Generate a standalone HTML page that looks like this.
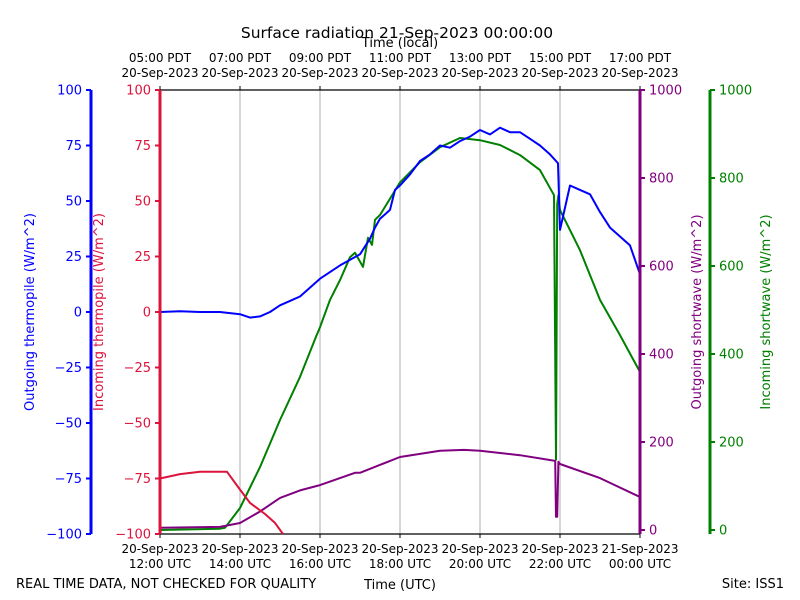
<!DOCTYPE html>
<html><head><meta charset="utf-8"><style>
body{margin:0;background:#fff;}
svg{display:block;font-family:"DejaVu Sans","Liberation Sans",sans-serif;}
</style></head><body>
<svg id="chart" width="800" height="600" xmlns="http://www.w3.org/2000/svg">
<rect width="800" height="600" fill="#fff"/>
<text x="397" y="38" font-size="15.5" text-anchor="middle">Surface radiation 21-Sep-2023 00:00:00</text>
<text x="400" y="47" font-size="13" text-anchor="middle">Time (local)</text>
<text x="400" y="589" font-size="13" text-anchor="middle">Time (UTC)</text>
<text x="16" y="588" font-size="13">REAL TIME DATA, NOT CHECKED FOR QUALITY</text>
<text x="784" y="588" font-size="13" text-anchor="end">Site: ISS1</text>
<g id="g"></g>
</svg>
<script>
// data (hours since 12:00 UTC)
const blueT=[0,0.5,1,1.5,1.75,2,2.25,2.5,2.75,3,3.25,3.5,3.75,4,4.5,5,5.25,5.375,5.5,5.75,5.875,6,6.25,6.5,6.75,7,7.25,7.5,7.75,8,8.25,8.5,8.75,9,9.25,9.5,9.75,9.85,9.9,9.95,10,10.25,10.5,10.75,11,11.25,11.5,11.75,12];
const blueV=[0,0.3,0,0,-0.5,-1,-2.5,-2,0,3,5,7,11,15,21,26,33,38,42,46,55,57,62,68,71,75,74,77,79,82,80,83,81,81,78,75,71,69,68,67,37,57,55,53,45,38,34,30,17];
const redT=[0,0.5,1,1.5,1.675,2,2.25,2.625,2.875,3.075];
const redV=[-75,-73,-72,-72,-72,-80,-86,-91,-95,-100];
const greenT=[0,1.5,1.625,2,2.5,3,3.5,3.9,4,4.25,4.5,4.75,4.875,5.075,5.2,5.3,5.375,5.5,6,6.5,7,7.5,8,8.5,9,9.5,9.85,9.9,9.93,9.96,10,10.5,11,11.5,12];
const greenV=[0,3,5,50,143,250,348,439,461,523,568,620,630,598,664,648,705,716,790,836,870,891,886,875,852,818,761,160,740,761,727,636,523,443,359];
const purpleT=[0,1.5,2,2.5,3,3.5,4,4.5,4.875,5,6,7,7.6,8,9,9.88,9.9,9.93,9.96,10,11,12];
const purpleV=[5,7,16,42,73,90,102,118,130,130,166,180,182,180,170,157,30,30,155,150,118,75];
const leftTicks=[100,75,50,25,0,-25,-50,-75,-100];
const rightTicks=[0,200,400,600,800,1000];
const utcLabels=["12:00 UTC","14:00 UTC","16:00 UTC","18:00 UTC","20:00 UTC","22:00 UTC","00:00 UTC"];
const utcDates=["20-Sep-2023","20-Sep-2023","20-Sep-2023","20-Sep-2023","20-Sep-2023","20-Sep-2023","21-Sep-2023"];
const localLabels=["05:00 PDT","07:00 PDT","09:00 PDT","11:00 PDT","13:00 PDT","15:00 PDT","17:00 PDT"];
const localDates=["20-Sep-2023","20-Sep-2023","20-Sep-2023","20-Sep-2023","20-Sep-2023","20-Sep-2023","20-Sep-2023"];

const X0=160,X1=640,YT=90,YB=534;
const xs=t=>X0+t*(X1-X0)/12;
const yL=v=>312-v*2.22;
const yR=v=>530-v*0.44;
const g=document.getElementById('g');
const NS='http://www.w3.org/2000/svg';
function el(tag,attrs,txt){const e=document.createElementNS(NS,tag);for(const k in attrs)e.setAttribute(k,attrs[k]);if(txt!==undefined)e.textContent=txt;g.appendChild(e);return e;}

for(let i=0;i<7;i++){
  const x=xs(i*2);
  if(i>0&&i<6){const l=el('line',{x1:x,x2:x,y1:YT,y2:YB,stroke:'#b0b0b0','stroke-width':1});
  
  }
  el('line',{x1:x,x2:x,y1:YB,y2:YB+4,stroke:'#000'});
  el('line',{x1:x,x2:x,y1:YT,y2:YT-4,stroke:'#000'});
  const a=el('text',{x:x,y:553,'font-size':12,'text-anchor':'middle'},utcDates[i]);
  
  
  const b=el('text',{x:x,y:568,'font-size':12,'text-anchor':'middle'},utcLabels[i]);
  
  
  const c=el('text',{x:x,y:62,'font-size':12,'text-anchor':'middle'},localLabels[i]);
  
  
  const d=el('text',{x:x,y:77,'font-size':12,'text-anchor':'middle'},localDates[i]);
  
  
}
el('line',{x1:X0,x2:X1,y1:YT,y2:YT,stroke:'#000','stroke-width':1.2});
el('line',{x1:X0,x2:X1,y1:YB,y2:YB,stroke:'#000','stroke-width':1.2});

function line(T,V,yf,color,name){
  const pts=T.map((t,i)=>xs(t).toFixed(1)+','+yf(V[i]).toFixed(1)).join(' ');
  const p=el('polyline',{points:pts,fill:'none',stroke:color,'stroke-width':2,'stroke-linejoin':'round'});
  
  
}
line(greenT,greenV,yR,'#008000','incoming-shortwave-line');
line(purpleT,purpleV,yR,'#800080','outgoing-shortwave-line');
line(redT,redV,yL,'#dc143c','incoming-thermopile-line');
line(blueT,blueV,yL,'#0000ff','outgoing-thermopile-line');

function axis(x,ticks,yf,color,side,name,title,tx){
  const s=el('line',{x1:x,x2:x,y1:YT,y2:YB,stroke:color,'stroke-width':3});
  
  
  ticks.forEach(v=>{
    const y=yf(v);
    el('line',{x1:x,x2:x+side*5,y1:y,y2:y,stroke:color,'stroke-width':2});
    const t=el('text',{x:x+side*9,y:y+4.5,'font-size':13,fill:color,'text-anchor':side<0?'end':'start'},String(v).replace('-','\u2212'));
    
    
  });
  const tt=el('text',{x:tx,y:312,'font-size':13,fill:color,'text-anchor':'middle',transform:`rotate(-90 ${tx} 312)`},title);
  
  
}
axis(91,leftTicks,yL,'#0000ff',-1,'outgoing-thermopile-axis','Outgoing thermopile (W/m^2)',34);
axis(160,leftTicks,yL,'#dc143c',-1,'incoming-thermopile-axis','Incoming thermopile (W/m^2)',103);
axis(640,rightTicks,yR,'#800080',1,'outgoing-shortwave-axis','Outgoing shortwave (W/m^2)',701);
axis(710,rightTicks,yR,'#008000',1,'incoming-shortwave-axis','Incoming shortwave (W/m^2)',770);
</script>
</body></html>
